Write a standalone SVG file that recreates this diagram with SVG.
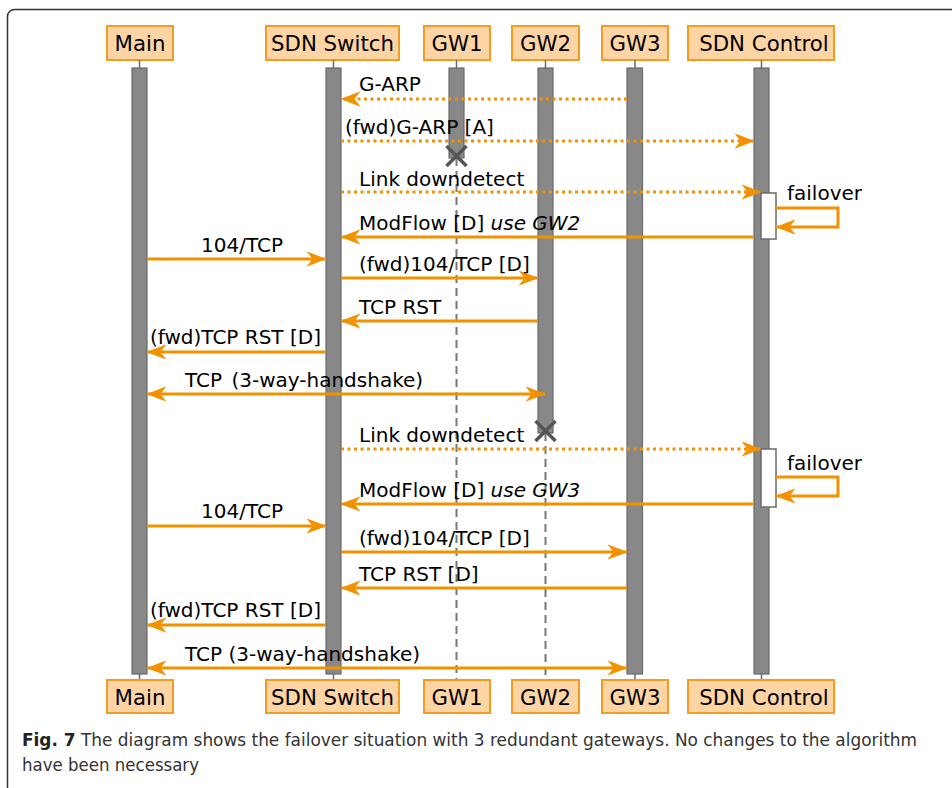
<svg xmlns="http://www.w3.org/2000/svg" width="952" height="788" viewBox="0 0 952 788">
<style>
.hdr{fill:#fdd5a4;stroke:#f39b22;stroke-width:2}
.ht{font-family:"DejaVu Sans",sans-serif;font-size:21.3px;fill:#000;text-anchor:middle}
.bar{fill:#888;stroke:#6a6a6a;stroke-width:1.2}
.stub{stroke:#6a6a6a;stroke-width:1.5}
.dl{stroke:#777;stroke-width:2;stroke-dasharray:8 5;fill:none}
.act{fill:#fff;stroke:#6a6a6a;stroke-width:1.5}
.m{stroke:#f39200;stroke-width:3;fill:none;marker-end:url(#ah)}
.dot{stroke-dasharray:3 3.5}
.both{marker-start:url(#ah)}
.t{font-family:"DejaVu Sans",sans-serif;font-size:20px;fill:#000}
.x{stroke:#555;stroke-width:3.5;fill:none}
.cap{font-family:"Liberation Sans Narrow","DejaVu Sans Condensed","Liberation Sans",sans-serif;font-size:18px;fill:#333}
</style>
<defs>
<marker id="ah" markerUnits="userSpaceOnUse" markerWidth="20" markerHeight="16" viewBox="0 0 17 13" refX="16.5" refY="6.5" orient="auto-start-reverse">
<path d="M0,0 L17,6.5 L0,13 L5,6.5 Z" fill="#f39200"/>
</marker>
</defs>
<rect x="7.5" y="9.5" width="960" height="800" rx="7" fill="#fff" stroke="#333" stroke-width="1.5"/>

<g id="lifelines">
<line class="dl" x1="456.5" y1="158" x2="456.5" y2="680"/>
<line class="dl" x1="545.5" y1="433" x2="545.5" y2="680"/>
</g>

<g id="node-main">
<rect class="hdr" x="107" y="26" width="66" height="34"/><text class="ht" x="140" y="51">Main</text>
<line class="stub" x1="139.5" y1="60" x2="139.5" y2="68"/>
<line class="stub" x1="139.5" y1="674" x2="139.5" y2="680"/>
<rect class="bar" x="132" y="68" width="15" height="606"/>
<rect class="hdr" x="107" y="680" width="66" height="33"/><text class="ht" x="140" y="705">Main</text>
</g>
<g id="node-switch">
<rect class="hdr" x="266" y="26" width="133" height="34"/><text class="ht" x="332.5" y="51">SDN Switch</text>
<line class="stub" x1="333.5" y1="60" x2="333.5" y2="68"/>
<line class="stub" x1="333.5" y1="674" x2="333.5" y2="680"/>
<rect class="bar" x="326" y="68" width="15" height="606"/>
<rect class="hdr" x="266" y="680" width="133" height="33"/><text class="ht" x="332.5" y="705">SDN Switch</text>
</g>
<g id="node-gw1">
<rect class="hdr" x="424" y="26" width="66" height="34"/><text class="ht" x="457" y="51">GW1</text>
<line class="stub" x1="456.5" y1="60" x2="456.5" y2="68"/>
<rect class="bar" x="449" y="68" width="15" height="90"/>
<path class="x" d="M446.5,146 L466.5,166 M466.5,146 L446.5,166"/>
<rect class="hdr" x="424" y="680" width="66" height="33"/><text class="ht" x="457" y="705">GW1</text>
</g>
<g id="node-gw2">
<rect class="hdr" x="512" y="26" width="67" height="34"/><text class="ht" x="545.5" y="51">GW2</text>
<line class="stub" x1="545.5" y1="60" x2="545.5" y2="68"/>
<rect class="bar" x="538" y="68" width="15" height="365"/>
<path class="x" d="M535.5,421 L555.5,441 M555.5,421 L535.5,441"/>
<rect class="hdr" x="512" y="680" width="67" height="33"/><text class="ht" x="545.5" y="705">GW2</text>
</g>
<g id="node-gw3">
<rect class="hdr" x="602" y="26" width="66" height="34"/><text class="ht" x="635" y="51">GW3</text>
<line class="stub" x1="635" y1="60" x2="635" y2="68"/>
<line class="stub" x1="635" y1="674" x2="635" y2="680"/>
<rect class="bar" x="627" y="68" width="15.5" height="606"/>
<rect class="hdr" x="602" y="680" width="66" height="33"/><text class="ht" x="635" y="705">GW3</text>
</g>
<g id="node-control">
<rect class="hdr" x="688" y="26" width="146" height="34"/><text class="ht" x="764" y="51">SDN Control</text>
<line class="stub" x1="761.5" y1="60" x2="761.5" y2="68"/>
<line class="stub" x1="761.5" y1="674" x2="761.5" y2="680"/>
<rect class="bar" x="754" y="68" width="15" height="606"/>
<rect class="act" x="761" y="193" width="15" height="46"/>
<rect class="act" x="761" y="449" width="15" height="58"/>
<rect class="hdr" x="688" y="680" width="146" height="33"/><text class="ht" x="764" y="705">SDN Control</text>
</g>

<g id="connectors">
<line class="m dot" x1="627" y1="99" x2="341" y2="99"/>
<line class="m dot" x1="341" y1="141" x2="754" y2="141"/>
<line class="m dot" x1="341" y1="192" x2="761" y2="192"/>
<polyline class="m" points="776,208 838,208 838,227 776,227"/>
<line class="m" x1="753" y1="237" x2="341" y2="237"/>
<line class="m" x1="147" y1="259" x2="326" y2="259"/>
<line class="m" x1="341" y1="278" x2="538" y2="278"/>
<line class="m" x1="538" y1="321" x2="341" y2="321"/>
<line class="m" x1="326" y1="352" x2="147" y2="352"/>
<line class="m both" x1="147" y1="394" x2="545" y2="394"/>
<line class="m dot" x1="341" y1="449" x2="761" y2="449"/>
<polyline class="m" points="776,477 838,477 838,496 776,496"/>
<line class="m" x1="753" y1="504" x2="341" y2="504"/>
<line class="m" x1="147" y1="526" x2="326" y2="526"/>
<line class="m" x1="341" y1="552" x2="627" y2="552"/>
<line class="m" x1="627" y1="588" x2="341" y2="588"/>
<line class="m" x1="326" y1="625" x2="147" y2="625"/>
<line class="m both" x1="147" y1="668" x2="627" y2="668"/>
</g>

<g id="labels">
<text class="t" x="359" y="91">G-ARP</text>
<text class="t" x="345" y="134">(fwd)G-ARP [A]</text>
<text class="t" x="359" y="186">Link downdetect</text>
<text class="t" x="787" y="200">failover</text>
<text class="t" x="359" y="230">ModFlow [D] <tspan font-style="italic">use GW2</tspan></text>
<text class="t" x="242" y="252" text-anchor="middle">104/TCP</text>
<text class="t" x="359" y="271">(fwd)104/TCP [D]</text>
<text class="t" x="359" y="314">TCP RST</text>
<text class="t" x="150" y="344">(fwd)TCP RST [D]</text>
<text class="t" x="185" y="387">TCP <tspan dx="3">(3-way-handshake)</tspan></text>
<text class="t" x="359" y="442">Link downdetect</text>
<text class="t" x="787" y="470">failover</text>
<text class="t" x="359" y="497">ModFlow [D] <tspan font-style="italic">use GW3</tspan></text>
<text class="t" x="242" y="518" text-anchor="middle">104/TCP</text>
<text class="t" x="359" y="545">(fwd)104/TCP [D]</text>
<text class="t" x="359" y="581">TCP RST [D]</text>
<text class="t" x="150" y="617">(fwd)TCP RST [D]</text>
<text class="t" x="185" y="661">TCP (3-way-handshake)</text>
</g>

<g id="caption">
<text class="cap" x="22" y="746" textLength="895" lengthAdjust="spacingAndGlyphs"><tspan font-weight="bold" fill="#222">Fig. 7</tspan>  The diagram shows the failover situation with 3 redundant gateways. No changes to the algorithm</text>
<text class="cap" x="22" y="771" textLength="177" lengthAdjust="spacingAndGlyphs">have been necessary</text>
</g>
</svg>
